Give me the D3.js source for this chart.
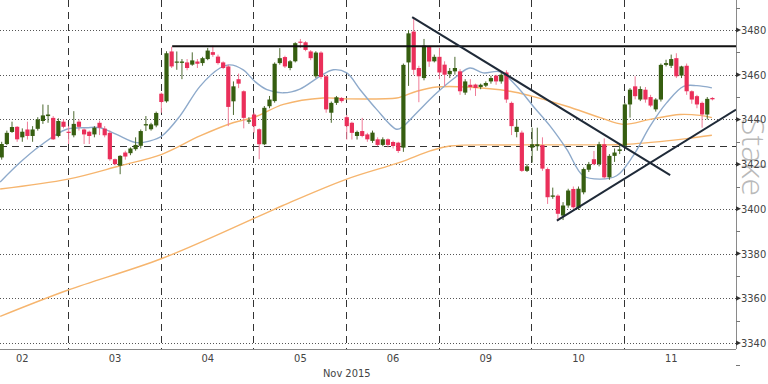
<!DOCTYPE html>
<html>
<head>
<meta charset="utf-8">
<script src="https://cdn.jsdelivr.net/npm/d3@7"></script>
<style>
  html, body { margin: 0; padding: 0; background: #fff; }
  svg { display: block; }
  .lbl { font-family: "DejaVu Sans Condensed", "DejaVu Sans", sans-serif; font-size: 11px; fill: #444; }
</style>
</head>
<body>
<div id="chart"></div>
<script>
// Hourly candles, 2-11 Nov 2015
const dayLabels = ["02", "03", "04", "05", "06", "09", "10", "11"];
const dayStarts = [-5, 13, 31, 49, 67, 85, 103, 121]; // candle index of each session start
const priceTicks = [3340, 3360, 3380, 3400, 3420, 3440, 3460, 3480];

const opens = [
  3423, 3429, 3434.4, 3436.7, 3432, 3435.5, 3432.6, 3435.8, 3439.3, 3441.5, 3440.7, 3432.6, 3439,
  3434.5, 3432.9, 3439, 3435.5, 3434.5, 3433.3, 3438.5, 3435.9, 3434, 3422.2, 3419.3, 3425.2, 3424.9, 3426.7, 3428.2, 3437.3, 3435.6, 3437.3,
  3451.5, 3448.1, 3470.4, 3465.5, 3465.3, 3465.5, 3464.5, 3465.9, 3465.2, 3467, 3470.1, 3468.1, 3465.5, 3463.7, 3448.1, 3458, 3452.6, 3439,
  3442.2, 3435.6, 3428.9, 3445.9, 3448.2, 3465.2, 3467.9, 3463, 3466, 3474.8, 3474.5, 3470.4, 3459.3, 3469.9, 3459.3, 3443, 3447.4, 3449.6,
  3441, 3438.5, 3432.6, 3434.8, 3433.3, 3430.4, 3431.1, 3428.6, 3431.1, 3429.9, 3429.6, 3427.4, 3465.5, 3479.3, 3463, 3458.5, 3472.6, 3466,
  3468, 3464.5, 3460.2, 3461.5, 3461.5, 3452, 3455.5, 3455.6, 3454.5, 3455.1, 3457, 3459.6, 3457, 3461, 3447.4, 3434.4, 3434.1, 3417,
  3427.4, 3428, 3428.5, 3417.8, 3405.4, 3405.9, 3397, 3401.5, 3408.9, 3400.3, 3407.4, 3417.5, 3422.2, 3420, 3428.9, 3414.1, 3423.7, 3425.9,
  3428.2, 3446.7, 3454.8, 3448.9, 3453.3, 3450, 3444.5, 3448.9, 3464.4, 3464, 3467.4, 3459.6, 3464, 3452.6, 3450.4, 3447.4, 3442.2, 3449.6
];
const highs = [
  3430, 3435, 3439, 3437, 3436, 3439, 3437, 3441, 3446.7, 3446.5, 3441.5, 3440.5, 3440,
  3437, 3443.7, 3440, 3436, 3435, 3437, 3439.5, 3437, 3435, 3422.5, 3424, 3426, 3427.5, 3432, 3435.5, 3441.5, 3438.5, 3443.5,
  3452, 3470.5, 3472.5, 3470.4, 3467, 3467, 3470, 3467, 3468, 3472, 3473, 3469, 3466, 3464.5, 3457, 3460.5, 3453, 3441,
  3443, 3436, 3446, 3450.5, 3465.5, 3471.9, 3468.5, 3466.5, 3474.5, 3476, 3475, 3471, 3470.5, 3470.5, 3460, 3448, 3450.5, 3450,
  3442, 3439, 3435, 3440.7, 3434, 3435, 3432, 3432, 3431.5, 3430.5, 3430, 3465, 3480, 3485.8, 3464, 3476, 3473, 3469,
  3472, 3466, 3463, 3468, 3462.5, 3458, 3458, 3456, 3456, 3457, 3459.5, 3460, 3461, 3462, 3448, 3440, 3435, 3420,
  3436.3, 3436.3, 3432, 3418.5, 3409.5, 3406.5, 3403, 3409, 3410, 3410, 3418.5, 3421, 3425.9, 3430, 3431.5, 3424.5, 3427, 3428.6,
  3447.4, 3454, 3459.3, 3454.8, 3454.5, 3451, 3449.5, 3465, 3466.7, 3469, 3469.6, 3464, 3465, 3453, 3451, 3448, 3450, 3450
];
const lows = [
  3422, 3428.5, 3434, 3430, 3430, 3431, 3430, 3435, 3438, 3438.5, 3430.8, 3432, 3436,
  3429, 3432, 3435, 3429, 3429, 3432, 3433, 3432, 3421.5, 3419.5, 3415.5, 3422, 3424, 3426, 3427, 3434.8, 3435, 3436.5,
  3443, 3447.5, 3463, 3462.2, 3458, 3462, 3464, 3463, 3464, 3466.5, 3468, 3464.5, 3462.5, 3437, 3442, 3454, 3436, 3438,
  3434, 3422.2, 3428.5, 3445, 3447.5, 3464.5, 3463, 3462, 3465.5, 3472, 3470.5, 3466.5, 3458.5, 3458, 3443, 3438.5, 3446.5, 3447.5,
  3431, 3431, 3431, 3432, 3430, 3429.5, 3428, 3428, 3427.5, 3427, 3425, 3425.5, 3455, 3460, 3447.7, 3457.5, 3463.5, 3465.5,
  3458, 3455, 3458.5, 3460, 3451, 3451, 3453, 3450.5, 3453.5, 3454.5, 3456, 3455.5, 3456, 3447.4, 3433, 3432, 3416.5, 3416.5,
  3420.7, 3426, 3417, 3402.2, 3404.5, 3394.5, 3395, 3400.5, 3400, 3399.5, 3406.5, 3416.5, 3419.5, 3419, 3413.5, 3413, 3421, 3424.5,
  3427.4, 3440.8, 3449, 3448.2, 3447.5, 3445.5, 3443.5, 3448, 3463.7, 3463, 3458.5, 3458.5, 3451, 3447, 3445, 3436.3, 3440, 3448.5
];
const closes = [
  3429, 3434, 3436.6, 3431.1, 3434.5, 3432.6, 3435.5, 3440, 3441.8, 3442.2, 3431.1, 3439.3, 3436.7,
  3434, 3438, 3436.7, 3433.3, 3432.6, 3436.3, 3436.3, 3432.9, 3422.2, 3420, 3423.7, 3423.4, 3427, 3428.6, 3434.8, 3437.9, 3437.8, 3442.9,
  3447.8, 3469.6, 3463.7, 3465.9, 3465.9, 3463, 3466.4, 3464.9, 3467.4, 3470.8, 3468.9, 3465.2, 3463, 3445.6, 3454.8, 3456, 3440.7, 3439.6,
  3437, 3428.9, 3445.2, 3448.9, 3464.9, 3467.4, 3463.7, 3466, 3474.1, 3474.3, 3471.1, 3467.4, 3469.9, 3459, 3444.5, 3447.4, 3449.9, 3448.2,
  3437, 3434, 3434.4, 3432.6, 3431.1, 3434.1, 3428.6, 3431.1, 3428.6, 3428.1, 3425.9, 3464.4, 3478.5, 3462.2, 3459.3, 3473, 3465.9, 3468,
  3461, 3460, 3461.7, 3463, 3452.6, 3457, 3454.5, 3454.1, 3455.5, 3456.3, 3458.5, 3457, 3460, 3448.9, 3437, 3436.7, 3417, 3419,
  3428.9, 3428.9, 3418, 3405.2, 3406, 3397.8, 3401.5, 3408.2, 3400.7, 3409, 3417.8, 3420, 3420, 3428.9, 3414.1, 3423.7, 3425.2, 3426.6,
  3446.7, 3453.3, 3450.4, 3453.6, 3448.9, 3446.2, 3448.9, 3464.4, 3465.2, 3467, 3459.3, 3463.7, 3452.6, 3448.9, 3446.7, 3442.2, 3449.2, 3449
];

// moving averages, [candle index, price]
const maFast = [
  [-0.3, 3412.0], [3.6, 3420.8], [7.4, 3428.1], [12.6, 3435.6], [16.5, 3436.3], [19.1, 3436.3], [22.3, 3433.3],
  [26.2, 3429.6], [28.8, 3430.4], [31.1, 3432.6], [34.6, 3441.5], [38.5, 3454.8], [42.4, 3463.0], [44.3, 3464.4],
  [46.9, 3462.2], [49.2, 3456.9], [51.5, 3453.3], [54.7, 3451.9], [57.9, 3453.6], [61.8, 3459.3], [64.4, 3462.2],
  [67.0, 3460.8], [69.6, 3453.3], [72.8, 3444.5], [76.7, 3435.6], [78.0, 3437.0], [80.6, 3443.0], [84.5, 3451.9],
  [88.3, 3459.2], [90.9, 3463.0], [93.5, 3460.8], [96.8, 3461.3], [100.0, 3454.8], [103.2, 3445.9], [106.5, 3437.0],
  [109.7, 3426.7], [112.9, 3414.8], [116.2, 3413.3], [119.4, 3414.8], [122.6, 3423.7], [125.9, 3437.0],
  [129.1, 3447.4], [132.4, 3454.8], [135.0, 3455.1], [137.9, 3454.1]
];
const maMid = [
  [-0.3, 3408.9], [12.9, 3413.3], [23.0, 3419.3], [31.1, 3424.4], [38.5, 3432.6], [44.9, 3438.5], [49.2, 3441.1],
  [54.7, 3446.7], [62.4, 3449.6], [67.0, 3449.2], [76.7, 3449.6], [77.9, 3450.4], [80.6, 3452.6], [84.5, 3454.5],
  [90.3, 3454.5], [98.7, 3452.6], [102.9, 3450.4], [109.7, 3445.9], [116.2, 3440.8], [120.7, 3437.8],
  [125.9, 3440.0], [131.7, 3442.2], [135.6, 3441.8], [137.9, 3440.8]
];
const maSlow = [
  [-0.3, 3351.9], [12.9, 3363.7], [31.1, 3377.8], [50.2, 3397.0], [54.6, 3401.5], [67.0, 3413.3],
  [77.3, 3420.8], [83.2, 3425.9], [87.0, 3428.1], [98.7, 3428.6], [116.2, 3428.6], [121.4, 3428.9],
  [129.1, 3430.4], [133.0, 3431.4], [137.9, 3432.9]
];

const resistanceLevel = 3472.7;
const resistanceFrom = 33.1;
const supportLevel = 3428.3;
const downTrend = [[79.7, 3485.8], [129.8, 3415.1]];
const upTrend = [[107.8, 3394.7], [142.6, 3444.4]];

const W = 768, H = 384;
const plotRight = 736, plotBottom = 349;

const candles = opens.map((o, i) => ({ i: i, o: o, h: highs[i], l: lows[i], c: closes[i] }));

const x = d3.scaleLinear().domain([0, 138]).range([1.7, 712.4]);
const y = d3.scaleLinear().domain([3340, 3480]).range([343, 30]);

const svg = d3.select("#chart").append("svg")
    .attr("width", W)
    .attr("height", H);

svg.append("defs").append("clipPath").attr("id", "plot")
    .append("rect").attr("x", 0).attr("y", 0).attr("width", plotRight).attr("height", plotBottom);

// watermark
svg.append("text")
    .attr("transform", "translate(742,118) rotate(90)")
    .style("font-family", "'Open Sans', 'DejaVu Sans', sans-serif")
    .style("font-weight", 300)
    .style("font-size", "32px")
    .style("fill", "#b9b9b9")
    .text("Stake");

// grid
svg.append("g").selectAll("line")
    .data(priceTicks)
    .enter().append("line")
    .attr("x1", 0).attr("x2", plotRight)
    .attr("y1", d => Math.round(y(d)) + 0.5).attr("y2", d => Math.round(y(d)) + 0.5)
    .style("stroke", "#555").style("stroke-width", 1).style("stroke-dasharray", "1,2");

svg.append("g").selectAll("line")
    .data(dayStarts.slice(1))
    .enter().append("line")
    .attr("x1", d => Math.round(x(d) - 0.7) + 0.5).attr("x2", d => Math.round(x(d) - 0.7) + 0.5)
    .attr("y1", 0).attr("y2", plotBottom)
    .style("stroke", "#333").style("stroke-width", 1).style("stroke-dasharray", "7,5");

svg.append("line")
    .attr("x1", 0).attr("x2", plotRight)
    .attr("y1", Math.round(y(supportLevel)) + 0.5).attr("y2", Math.round(y(supportLevel)) + 0.5)
    .style("stroke", "#333").style("stroke-width", 1.2).style("stroke-dasharray", "7,5");

const plot = svg.append("g").attr("clip-path", "url(#plot)");

// moving averages
const lineGen = d3.line()
    .x(d => x(d[0]))
    .y(d => y(d[1]))
    .curve(d3.curveCatmullRom);

plot.append("path").datum(maSlow).attr("d", lineGen)
    .style("fill", "none").style("stroke", "#f6b56e").style("stroke-width", 1.4);
plot.append("path").datum(maMid).attr("d", lineGen)
    .style("fill", "none").style("stroke", "#f6b56e").style("stroke-width", 1.4);
plot.append("path").datum(maFast).attr("d", lineGen)
    .style("fill", "none").style("stroke", "#8eaacb").style("stroke-width", 1.4);

// candles
const bw = 4.2;
const cg = plot.append("g").selectAll("g")
    .data(candles)
    .enter().append("g");

cg.append("line")
    .attr("x1", d => x(d.i)).attr("x2", d => x(d.i))
    .attr("y1", d => y(d.h)).attr("y2", d => y(d.l))
    .style("stroke", d => d.c >= d.o ? "#4d6a30" : "#f07c98")
    .style("stroke-width", 1);

cg.append("rect")
    .attr("x", d => x(d.i) - bw / 2)
    .attr("width", bw)
    .attr("y", d => y(Math.max(d.o, d.c)))
    .attr("height", d => Math.max(1.2, Math.abs(y(d.o) - y(d.c))))
    .style("fill", d => d.c >= d.o ? "#365e10" : "#ea2f5a");

// trend lines
plot.append("line")
    .attr("x1", x(resistanceFrom)).attr("x2", plotRight)
    .attr("y1", y(resistanceLevel)).attr("y2", y(resistanceLevel))
    .style("stroke", "#111").style("stroke-width", 2);

[downTrend, upTrend].forEach(t => {
    plot.append("line")
        .attr("x1", x(t[0][0])).attr("y1", y(t[0][1]))
        .attr("x2", x(t[1][0])).attr("y2", y(t[1][1]))
        .style("stroke", "#1f2a38").style("stroke-width", 2);
});

// right axis
const ax = svg.append("g");
ax.append("line")
    .attr("x1", plotRight + 0.5).attr("x2", plotRight + 0.5)
    .attr("y1", 0).attr("y2", plotBottom)
    .style("stroke", "#8a8a8a");

const minor = d3.range(3330, 3500, 10).filter(v => priceTicks.indexOf(v) < 0);
ax.selectAll(".minor")
    .data(minor)
    .enter().append("line")
    .attr("x1", plotRight).attr("x2", plotRight + 4)
    .attr("y1", d => Math.round(y(d)) + 0.5).attr("y2", d => Math.round(y(d)) + 0.5)
    .style("stroke", "#777");

ax.selectAll(".arrow")
    .data(priceTicks)
    .enter().append("path")
    .attr("d", d => { const yy = y(d); return `M${plotRight},${yy - 2.5}L${plotRight + 5},${yy}L${plotRight},${yy + 2.5}Z`; })
    .style("fill", "#333");

ax.selectAll(".val")
    .data(priceTicks)
    .enter().append("text")
    .attr("class", "lbl")
    .attr("x", plotRight + 5)
    .attr("y", d => y(d) + 4)
    .text(d => d);

// bottom axis
svg.append("line")
    .attr("x1", 0).attr("x2", plotRight)
    .attr("y1", plotBottom + 0.5).attr("y2", plotBottom + 0.5)
    .style("stroke", "#8a8a8a");

svg.selectAll(".day")
    .data(dayLabels)
    .enter().append("text")
    .attr("class", "lbl")
    .attr("x", (d, k) => x(dayStarts[k] + 9))
    .attr("y", 362)
    .style("text-anchor", "middle")
    .text(d => d);

svg.append("text")
    .attr("class", "lbl")
    .attr("x", x(67))
    .attr("y", 377)
    .style("text-anchor", "middle")
    .text("Nov 2015");
</script>
</body>
</html>
